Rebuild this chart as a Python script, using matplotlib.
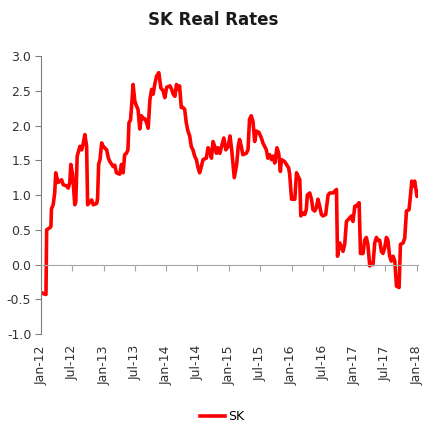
import pandas as pd
import matplotlib.pyplot as plt
import matplotlib.dates as mdates

plt.rcParams['font.family'] = ['Liberation Sans Narrow', 'DejaVu Sans Condensed', 'DejaVu Sans']

# SK real rates
dates = [
    '2012-01-01', '2012-01-18', '2012-01-30', '2012-02-03', '2012-02-22', '2012-02-28',
    '2012-03-02', '2012-03-12', '2012-03-21', '2012-03-27', '2012-04-10', '2012-04-30',
    '2012-05-09', '2012-05-29', '2012-06-08', '2012-06-17', '2012-06-23', '2012-07-03',
    '2012-07-16', '2012-07-22', '2012-07-30', '2012-08-15', '2012-08-25', '2012-09-04',
    '2012-09-13', '2012-09-23', '2012-09-29', '2012-10-12', '2012-10-22', '2012-11-01',
    '2012-11-21', '2012-11-26', '2012-12-02', '2012-12-10', '2012-12-20', '2012-12-29',
    '2013-01-18', '2013-01-28', '2013-02-06', '2013-02-25', '2013-03-06', '2013-03-16',
    '2013-04-04', '2013-04-14', '2013-04-24', '2013-05-03', '2013-05-13', '2013-05-22',
    '2013-05-28', '2013-06-06', '2013-06-13', '2013-06-21', '2013-07-01', '2013-07-11',
    '2013-07-20', '2013-07-30', '2013-08-09', '2013-08-18', '2013-08-28', '2013-09-08',
    '2013-09-17', '2013-09-27', '2013-10-07', '2013-10-16', '2013-10-26', '2013-11-05',
    '2013-11-18', '2013-11-30', '2013-12-13', '2013-12-23', '2014-01-03', '2014-01-22',
    '2014-02-01', '2014-02-10', '2014-02-20', '2014-03-01', '2014-03-09', '2014-03-19',
    '2014-03-29', '2014-04-08', '2014-04-18', '2014-04-27', '2014-05-07', '2014-05-17',
    '2014-05-26', '2014-06-05', '2014-06-15', '2014-06-25', '2014-07-04', '2014-07-14',
    '2014-07-24', '2014-08-03', '2014-08-22', '2014-09-01', '2014-09-11', '2014-09-21',
    '2014-09-30', '2014-10-10', '2014-10-20', '2014-10-29', '2014-11-09', '2014-11-19',
    '2014-12-02', '2014-12-14', '2014-12-27', '2015-01-07', '2015-01-17', '2015-01-26',
    '2015-02-01', '2015-02-15', '2015-02-24', '2015-03-04', '2015-03-14', '2015-03-23',
    '2015-04-12', '2015-04-22', '2015-05-01', '2015-05-11', '2015-05-21', '2015-05-31',
    '2015-06-10', '2015-06-25', '2015-07-09', '2015-07-18', '2015-07-28', '2015-08-07',
    '2015-08-16', '2015-08-26', '2015-09-06', '2015-09-15', '2015-09-25', '2015-10-08',
    '2015-10-18', '2015-10-28', '2015-11-03', '2015-11-22', '2015-12-15', '2015-12-21',
    '2016-01-01', '2016-01-20', '2016-01-30', '2016-02-08', '2016-02-18', '2016-02-24',
    '2016-03-08', '2016-03-18', '2016-03-27', '2016-04-02', '2016-04-16', '2016-04-26',
    '2016-05-05', '2016-05-15', '2016-05-25', '2016-06-03', '2016-06-13', '2016-06-23',
    '2016-07-02', '2016-07-18', '2016-08-01', '2016-08-11', '2016-08-30', '2016-09-19',
    '2016-09-25', '2016-10-08', '2016-10-18', '2016-10-27', '2016-11-06', '2016-11-16',
    '2016-12-05', '2016-12-15', '2016-12-24', '2017-01-04', '2017-01-14', '2017-01-29',
    '2017-02-06', '2017-02-21', '2017-03-02', '2017-03-12', '2017-03-21', '2017-04-01',
    '2017-04-11', '2017-04-20', '2017-04-30', '2017-05-10', '2017-05-19', '2017-05-29',
    '2017-06-08', '2017-06-17', '2017-06-27', '2017-07-07', '2017-07-16', '2017-07-26',
    '2017-08-05', '2017-08-15', '2017-08-25', '2017-09-04', '2017-09-19', '2017-09-27',
    '2017-10-12', '2017-10-22', '2017-11-01', '2017-11-16', '2017-11-24', '2017-12-02',
    '2017-12-10', '2017-12-19', '2017-12-25', '2018-01-02', '2018-01-08',
]
sk = [
    -0.40, -0.42, -0.43, 0.50, 0.53, 0.55,
    0.80, 0.86, 1.03, 1.32, 1.18, 1.22,
    1.15, 1.13, 1.10, 1.18, 1.44, 1.30,
    0.86, 0.90, 1.56, 1.70, 1.65, 1.75,
    1.87, 1.70, 0.86, 0.90, 0.93, 0.86,
    0.88, 0.95, 1.44, 1.51, 1.75, 1.70,
    1.65, 1.53, 1.48, 1.41, 1.43, 1.32,
    1.30, 1.44, 1.32, 1.58, 1.60, 1.65,
    2.04, 2.08, 2.30, 2.59, 2.35, 2.28,
    2.23, 1.95, 2.14, 2.10, 2.10, 2.04,
    1.96, 2.37, 2.52, 2.45, 2.60, 2.71,
    2.76, 2.54, 2.50, 2.40, 2.55, 2.57,
    2.52, 2.45, 2.42, 2.59, 2.52, 2.57,
    2.26, 2.26, 2.23, 2.04, 1.92, 1.85,
    1.70, 1.65, 1.56, 1.51, 1.40, 1.32,
    1.41, 1.51, 1.53, 1.68, 1.63, 1.53,
    1.77, 1.70, 1.60, 1.68, 1.60, 1.70,
    1.82, 1.65, 1.70, 1.85, 1.65, 1.41,
    1.25, 1.44, 1.70, 1.80, 1.70, 1.58,
    1.60, 1.65, 2.09, 2.14, 2.06, 1.77,
    1.92, 1.90, 1.82, 1.75, 1.70, 1.65,
    1.53, 1.58, 1.51, 1.56, 1.46, 1.68,
    1.60, 1.34, 1.51, 1.48, 1.39, 1.30,
    0.94, 0.94, 1.32, 1.27, 1.22, 0.70,
    0.74, 0.72, 0.79, 1.00, 1.03, 0.94,
    0.79, 0.77, 0.82, 0.94, 0.84, 0.72,
    0.70, 0.72, 1.00, 1.03, 1.03, 1.08,
    0.12, 0.31, 0.26, 0.19, 0.29, 0.62,
    0.67, 0.70, 0.62, 0.84, 0.84, 0.89,
    0.16, 0.16, 0.35, 0.39, 0.29, -0.02,
    0.02, 0.00, 0.31, 0.39, 0.35, 0.35,
    0.19, 0.16, 0.24, 0.39, 0.35, 0.12,
    0.05, 0.12, 0.05, -0.31, -0.33, 0.29,
    0.31, 0.38, 0.77, 0.79, 0.98, 1.20,
    1.13, 1.20, 1.10, 0.98, 1.05,
]
x = pd.to_datetime(dates)

fig = plt.figure(figsize=(4.27, 4.24), dpi=100)
ax = fig.add_axes([0.096, 0.212, 0.884, 0.656])

ax.plot(x, sk, color='#ff0000', linewidth=2.6, label='SK', solid_joinstyle='round')

ax.set_ylim(-1.0, 3.0)
ax.set_yticks([-1.0, -0.5, 0.0, 0.5, 1.0, 1.5, 2.0, 2.5, 3.0])
ax.set_yticklabels(['-1.0', '-0.5', '0.0', '0.5', '1.0', '1.5', '2.0', '2.5', '3.0'])
ax.set_xlim(pd.Timestamp('2012-01-01'), pd.Timestamp('2018-01-10'))

ax.spines['top'].set_visible(False)
ax.spines['right'].set_visible(False)
ax.spines['left'].set_color('#7f7f7f')
ax.spines['bottom'].set_position(('data', 0))
ax.spines['bottom'].set_color('#a6a6a6')

ax.xaxis.set_major_locator(mdates.MonthLocator(bymonth=[1, 7]))
ax.tick_params(axis='x', direction='out', length=4, color='#a6a6a6', labelbottom=False)
ax.tick_params(axis='y', direction='out', length=4, color='#7f7f7f', labelsize=9,
               labelcolor='#333333', pad=3)

# labels sit below the plot, not on the zero line
sec = ax.secondary_xaxis('bottom')
sec.xaxis.set_major_locator(mdates.MonthLocator(bymonth=[1, 7]))
sec.xaxis.set_major_formatter(mdates.DateFormatter('%b-%y'))
sec.spines['bottom'].set_visible(False)
sec.tick_params(axis='x', length=0, pad=8, labelsize=9, labelcolor='#333333')
for lab in sec.get_xticklabels():
    lab.set_rotation(90)

fig.suptitle('SK Real Rates', x=0.5, y=0.975, fontsize=12, fontweight='bold', color='#1a1a1a')

fig.legend(loc='lower center', bbox_to_anchor=(0.52, -0.025), frameon=False, fontsize=9,
           handlelength=2.0, handletextpad=0.3)

fig.savefig('out.png', dpi=100)
